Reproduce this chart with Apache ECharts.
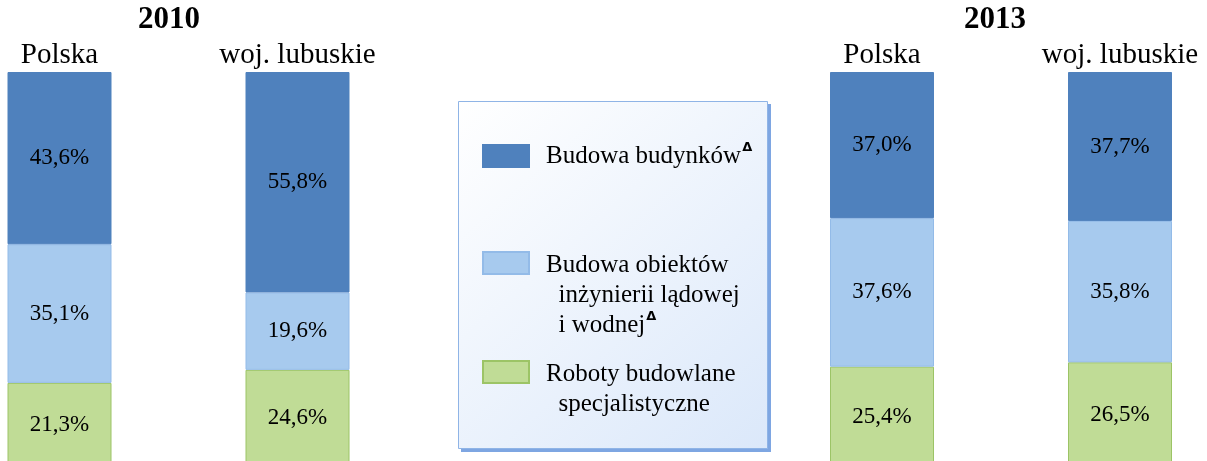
<!DOCTYPE html>
<html>
<head>
<meta charset="utf-8">
<script src="https://cdn.jsdelivr.net/npm/echarts@6/dist/echarts.min.js"></script>
<style>
  html, body { margin: 0; padding: 0; background: #fff; }
  #chart { width: 1207px; height: 461px; }
</style>
</head>
<body>
<div id="chart"></div>
<script>
// dane
const categories = ['Polska', 'woj. lubuskie'];
const years = ['2010', '2013'];
const seriesNames = [
  'Roboty budowlane specjalistyczne',
  'Budowa obiektów inżynierii lądowej i wodnej',
  'Budowa budynków'
];
const roboty2010 = [21.3, 24.6];
const inzynieria2010 = [35.1, 19.6];
const budynki2010 = [43.6, 55.8];
const roboty2013 = [25.4, 26.5];
const inzynieria2013 = [37.6, 35.8];
const budynki2013 = [37.0, 37.7];

const FONT = '"Liberation Serif", "Times New Roman", serif';
const colors = ['#c0dc96', '#a7caee', '#4f81bd'];
const borders = ['#9cc466', '#93bbe8', '#4f81bd'];

const chart = echarts.init(document.getElementById('chart'));

function pct(p) {
  return p.value.toFixed(1).replace('.', ',') + '%';
}

function makeSeries(gridIdx, arrays) {
  return arrays.map((data, i) => ({
    name: seriesNames[i],
    type: 'bar',
    stack: 'g' + gridIdx,
    xAxisIndex: gridIdx,
    yAxisIndex: gridIdx,
    barWidth: 104,
    data: data,
    itemStyle: { color: colors[i], borderColor: borders[i], borderWidth: 1 },
    label: {
      show: true,
      position: 'inside',
      formatter: pct,
      color: '#000',
      fontSize: 23,
      fontFamily: FONT
    }
  }));
}

// wykres wychodzi poza dolną krawędź
const gridBase = { top: 72, height: 395, width: 238, outerBoundsMode: 'none', containLabel: false };
const xBase = {
  type: 'category',
  data: categories,
  position: 'top',
  boundaryGap: false,
  axisLine: { show: false },
  axisTick: { show: false },
  axisLabel: { interval: 0, color: '#000', fontSize: 29, fontFamily: FONT, margin: 2 }
};
const yBase = { type: 'value', min: 0, max: 100, show: false };

const legendText = {
  'Budowa budynków': '{t|Budowa budynków}{sup|Δ}',
  'Budowa obiektów inżynierii lądowej i wodnej': '{t|Budowa obiektów}\n{t|  inżynierii lądowej}\n{t|  i wodnej}{sup|Δ}',
  'Roboty budowlane specjalistyczne': '{t|Roboty budowlane}\n{t|  specjalistyczne}'
};
const legendRich = {
  t: { fontSize: 25, fontFamily: FONT, color: '#000', lineHeight: 30 },
  sup: { fontSize: 13, fontFamily: 'DejaVu Sans', fontWeight: 'bold', color: '#000', verticalAlign: 'top', lineHeight: 30, padding: [0, 0, 12, 1] }
};
function legendItem(name, top, padTop) {
  return {
    data: [name],
    left: 482,
    top: top,
    padding: 0,
    selectedMode: false,
    icon: 'rect',
    itemWidth: 46,
    itemHeight: 22,
    formatter: n => legendText[n],
    textStyle: { rich: legendRich, padding: [padTop, 0, 0, 12] }
  };
}

const option = {
  animation: false,
  title: [
    { text: years[0], left: 169, top: 4, padding: 0, textAlign: 'center',
      textStyle: { fontSize: 31, fontWeight: 'bold', fontFamily: FONT, color: '#000' } },
    { text: years[1], left: 995, top: 4, padding: 0, textAlign: 'center',
      textStyle: { fontSize: 31, fontWeight: 'bold', fontFamily: FONT, color: '#000' } }
  ],
  graphic: [
    {
      type: 'rect',
      z: -11,
      shape: { x: 461, y: 104, width: 310, height: 348 },
      style: { fill: '#7ea6e2' }
    },
    {
      type: 'rect',
      z: -10,
      shape: { x: 458.5, y: 101.5, width: 309, height: 347 },
      style: {
        fill: new echarts.graphic.LinearGradient(0, 0, 1, 1, [
          { offset: 0, color: '#ffffff' },
          { offset: 1, color: '#dbe8fa' }
        ]),
        stroke: '#8fb4e6',
        lineWidth: 1
      }
    }
  ],
  legend: [
    legendItem(seriesNames[2], 141, 0),
    legendItem(seriesNames[1], 251, 64),
    legendItem(seriesNames[0], 360, 34)
  ],
  grid: [
    Object.assign({ left: 59.5 }, gridBase),
    Object.assign({ left: 882 }, gridBase)
  ],
  xAxis: [
    Object.assign({ gridIndex: 0 }, xBase),
    Object.assign({ gridIndex: 1 }, xBase)
  ],
  yAxis: [
    Object.assign({ gridIndex: 0 }, yBase),
    Object.assign({ gridIndex: 1 }, yBase)
  ],
  series: [
    ...makeSeries(0, [roboty2010, inzynieria2010, budynki2010]),
    ...makeSeries(1, [roboty2013, inzynieria2013, budynki2013])
  ]
};

chart.setOption(option);
window.addEventListener('resize', function () {
  chart.resize();
});
</script>
</body>
</html>
